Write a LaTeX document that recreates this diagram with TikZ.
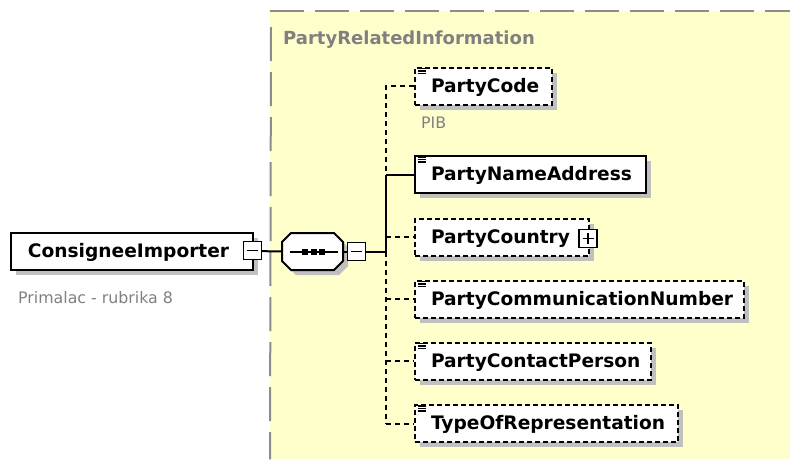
\documentclass[tikz,border=0pt]{standalone}
\usepackage{fontspec}
\usetikzlibrary{shadows,calc}
\newfontfamily\dvs{DejaVu Sans}
\definecolor{bgyellow}{HTML}{FFFFCC}
\definecolor{shadowgray}{HTML}{C0C0C0}
\definecolor{txtgray}{HTML}{808080}
\definecolor{bordergray}{HTML}{8C8C8C}
\begin{document}
\begin{tikzpicture}[x=1pt,y=-1pt,
 elem/.style={draw=black, line width=2pt, fill=white, minimum height=37pt, inner xsep=0pt, inner ysep=0pt, anchor=west, text height=15pt, text depth=3pt, font=\dvs\bfseries\fontsize{18.6}{20}\selectfont, general shadow={shadow xshift=5pt, shadow yshift=-5pt, fill=shadowgray}},
 optelem/.style={elem, dash pattern=on 5pt off 3pt},
 conn/.style={line width=2pt},
 optconn/.style={conn, dash pattern=on 5pt off 4pt},
 togglebox/.style={draw=black, line width=1.6pt, fill=white, minimum width=18pt, minimum height=18pt, inner sep=0pt},
 iconline/.style={line width=1.1pt},
 note/.style={font=\dvs\fontsize{15.8}{17}\selectfont, text=txtgray, inner sep=0pt, anchor=base west},
 grpborder/.style={draw=bordergray, line width=2pt, dash pattern=on 34pt off 11pt},
]
\useasboundingbox (0,0) rectangle (790,459);
\fill[white] (0,0) rectangle (790,459);
% group background
\node[fill=bgyellow, anchor=north west, minimum width=520pt, minimum height=448pt, inner sep=0pt] (grp) at (270,11) {};
\draw[grpborder] (grp.north west) -- (grp.north east);
\draw[grpborder] ($(grp.north west)+(1,16)$) -- (grp.south west);
\node[font=\dvs\bfseries\fontsize{18}{20}\selectfont, text=txtgray, inner sep=0pt, anchor=base west] (title) at (283,44.5) {PartyRelatedInformation};

% root element
\node[elem] (cons) at (10,251) {\makebox[242pt][l]{\hspace{17pt}ConsigneeImporter}};
\node[note] (consnote) at (18,303) {Primalac - rubrika 8};

% sequence compositor
\node[minimum width=61pt, minimum height=37pt, inner sep=0pt] (seq) at (312.5,251.5) {};
\fill[shadowgray] (296,238) -- (339,238) -- (348,247) -- (348,266) -- (339,275) -- (296,275) -- (287,266) -- (287,247) -- cycle;
\draw[line width=2pt, fill=white] (291,233) -- (334,233) -- (343,242) -- (343,261) -- (334,270) -- (291,270) -- (282,261) -- (282,242) -- cycle;
\draw[line width=2pt] (290,251.5) -- (338,251.5);
\foreach \dx in {305,313.5,322} \fill (\dx,251.5) ++(-3,-3) rectangle ++(6,6);

% children
\node[optelem] (code) at (414,86) {\makebox[137pt][l]{\hspace{16pt}PartyCode}};
\node[note] (codenote) at (421,128.5) {PIB};
\node[elem] (name) at (414,174.5) {\makebox[231pt][l]{\hspace{16pt}PartyNameAddress}};
\node[optelem] (country) at (414,237) {\makebox[174pt][l]{\hspace{16pt}PartyCountry}};
\node[optelem] (comm) at (414,299) {\makebox[329pt][l]{\hspace{16pt}PartyCommunicationNumber}};
\node[optelem] (contact) at (414,361) {\makebox[236pt][l]{\hspace{16pt}PartyContactPerson}};
\node[optelem] (type) at (414,423.5) {\makebox[263pt][l]{\hspace{16pt}TypeOfRepresentation}};

% simple-content icons
\foreach \n in {code,name,comm,contact,type}{
  \foreach \dy in {2,4.5,7}
    \draw[iconline] ($(\n.north west)+(3.5,\dy)$) -- ++(8,0);
}

% bus coordinates
\coordinate (j) at (386,251.5);
\coordinate (bcode) at (386,86);
\coordinate (bname) at (386,174.5);
\coordinate (bcountry) at (386,237);
\coordinate (bcomm) at (386,299);
\coordinate (bcontact) at (386,361);
\coordinate (btype) at (386,423.5);

% connectors
\draw[conn] (cons.east) -- (seq.west);
\node[togglebox] (seqm) at (356.5,251.5) {};
\draw[conn] (seq.east) -- (seqm.west);
\draw[conn] (seqm.east) -- (j);
\draw[optconn] (code.west) -- (bcode) -- (bname);
\draw[conn] (bname) -- (j);
\draw[conn] (bname) -- (name.west);
\draw[optconn] (j) -- (btype);
\draw[optconn] (bcountry) -- (country.west);
\draw[optconn] (bcomm) -- (comm.west);
\draw[optconn] (bcontact) -- (contact.west);
\draw[optconn] (btype) -- (type.west);

% toggles
\node[togglebox] (consm) at (252.5,250.5) {};
\draw[line width=1.5pt] ($(consm.center)+(-5.5,0)$) -- ($(consm.center)+(5.5,0)$);
\draw[line width=1.5pt] ($(seqm.center)+(-5.5,0)$) -- ($(seqm.center)+(5.5,0)$);
\node[togglebox] (countryp) at (588,238.5) {};
\draw[line width=1.5pt] ($(countryp.center)+(-5.5,0)$) -- ($(countryp.center)+(5.5,0)$);
\draw[line width=1.5pt] ($(countryp.center)+(0,-5.5)$) -- ($(countryp.center)+(0,5.5)$);
\end{tikzpicture}
\end{document}
